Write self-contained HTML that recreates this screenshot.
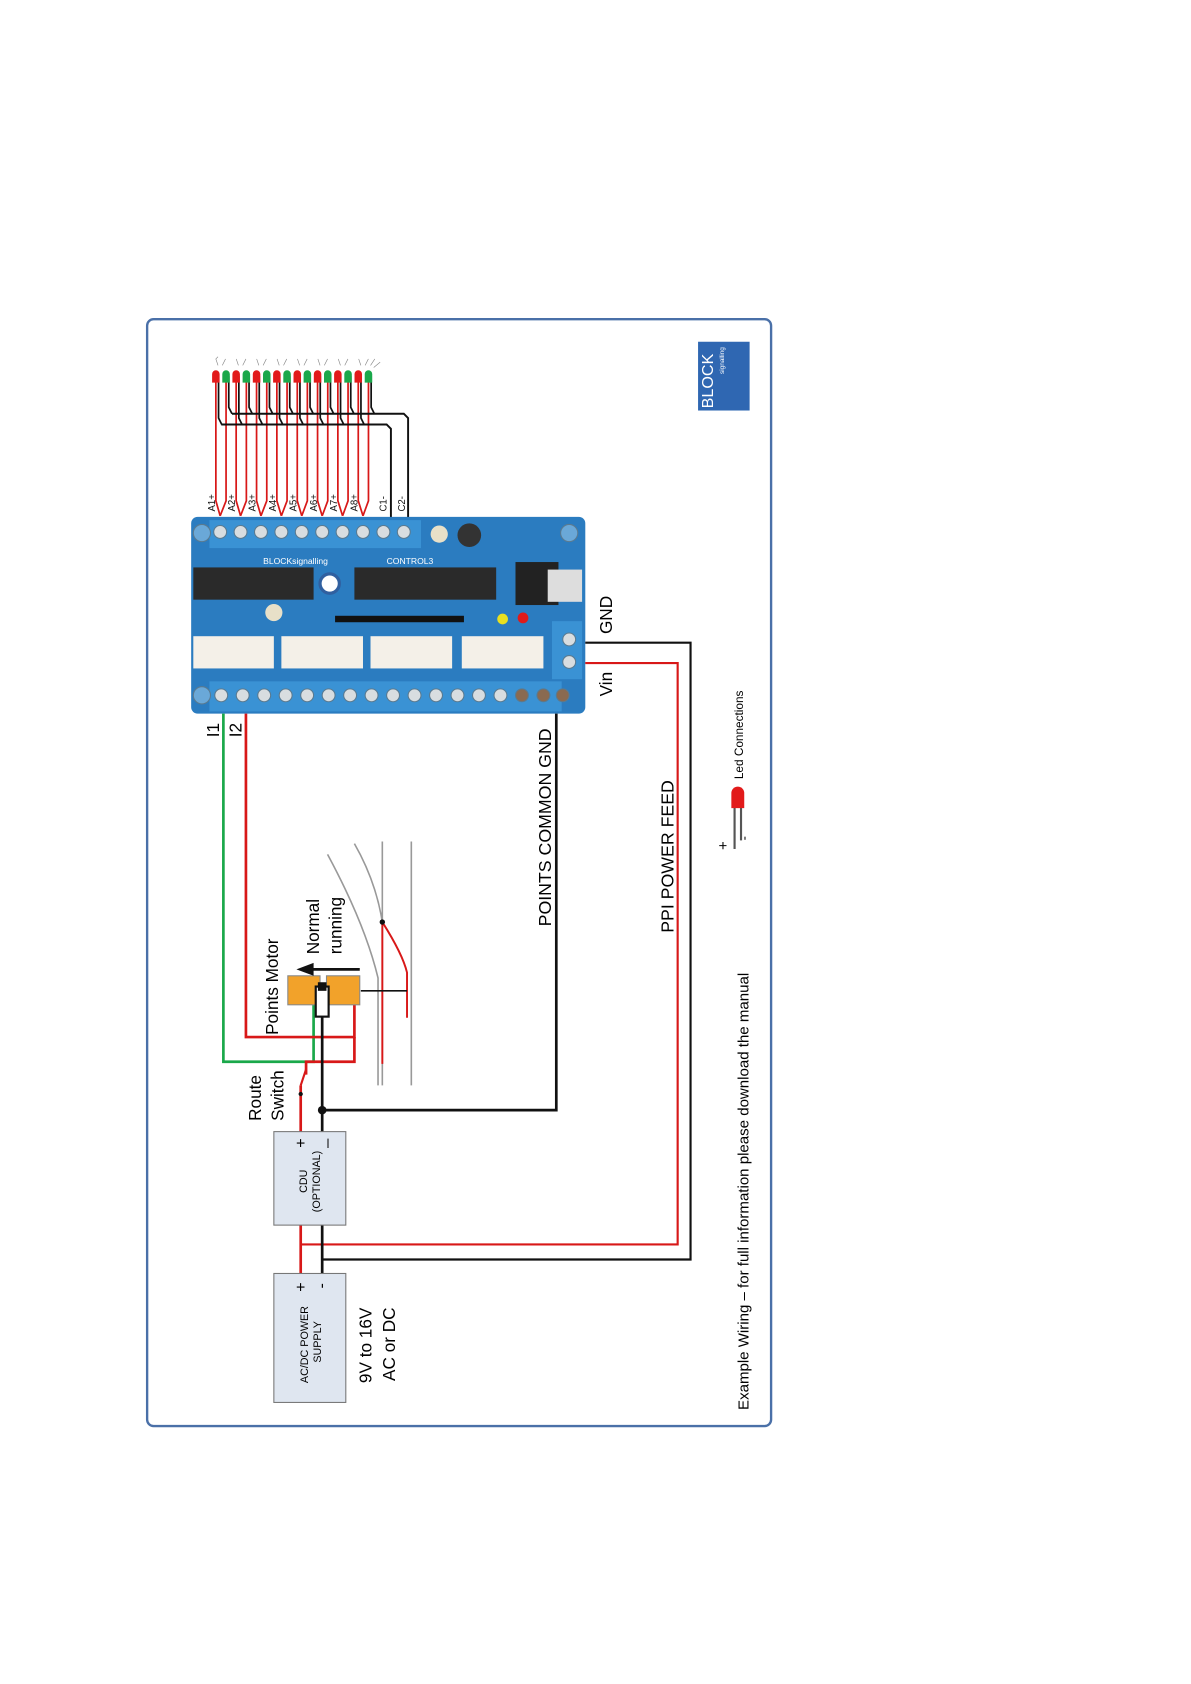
<!DOCTYPE html>
<html><head><meta charset="utf-8"><style>
html,body{margin:0;padding:0;background:#fff;}
svg{display:block;}
text{font-family:"Liberation Sans",sans-serif;}
</style></head><body>
<svg width="1191" height="1684" viewBox="0 0 1109 1567" preserveAspectRatio="none" xmlns="http://www.w3.org/2000/svg">
<rect x="137" y="297" width="581" height="1030" rx="6" fill="#fff" stroke="#4a70a8" stroke-width="2.2"/>
<rect x="650" y="318" width="48" height="64" fill="#2f67b2"/>
<text transform="translate(664,380) rotate(-90)" font-size="15" fill="#fff">BLOCK</text>
<text transform="translate(674,348) rotate(-90)" font-size="6" fill="#fff">signalling</text>

<!-- LED red wires -->
<g fill="none" stroke="#d81818" stroke-width="1.6">
<polyline points="201,350 201,466 205,480"/><polyline points="210.5,350 210.5,466 205,480"/>
<polyline points="219.9,350 219.9,466 224,480"/><polyline points="229.4,350 229.4,466 224,480"/>
<polyline points="238.9,350 238.9,466 243,480"/><polyline points="248.4,350 248.4,466 243,480"/>
<polyline points="257.8,350 257.8,466 262,480"/><polyline points="267.3,350 267.3,466 262,480"/>
<polyline points="276.8,350 276.8,466 281,480"/><polyline points="286.2,350 286.2,466 281,480"/>
<polyline points="295.7,350 295.7,466 300,480"/><polyline points="305.2,350 305.2,466 300,480"/>
<polyline points="314.6,350 314.6,466 319,480"/><polyline points="324.1,350 324.1,466 319,480"/>
<polyline points="333.6,350 333.6,466 338,480"/><polyline points="343.1,350 343.1,466 338,480"/>
</g>
<!-- LED black legs -->
<g fill="none" stroke="#111" stroke-width="1.6">
<polyline points="203.5,350 203.5,389 206.5,395"/><polyline points="213,350 213,379 216,385"/>
<polyline points="222.4,350 222.4,389 225.4,395"/><polyline points="231.9,350 231.9,379 234.9,385"/>
<polyline points="241.4,350 241.4,389 244.4,395"/><polyline points="250.9,350 250.9,379 253.9,385"/>
<polyline points="260.3,350 260.3,389 263.3,395"/><polyline points="269.8,350 269.8,379 272.8,385"/>
<polyline points="279.3,350 279.3,389 282.3,395"/><polyline points="288.7,350 288.7,379 291.7,385"/>
<polyline points="298.2,350 298.2,389 301.2,395"/><polyline points="307.7,350 307.7,379 310.7,385"/>
<polyline points="317.1,350 317.1,389 320.1,395"/><polyline points="326.6,350 326.6,379 329.6,385"/>
<polyline points="336.1,350 336.1,389 339.1,395"/><polyline points="345.6,350 345.6,379 348.6,385"/>
<polyline points="206,395 360,395 364,399 364,490" stroke-width="1.8"/>
<polyline points="216,385 376,385 380,389 380,490" stroke-width="1.8"/>
</g>
<!-- LED bodies -->
<g>
<path d="M197.5,356 v-8 a3.5,3.5 0 0 1 7,0 v8 z" fill="#e21a1a"/>
<path d="M207,356 v-8 a3.5,3.5 0 0 1 7,0 v8 z" fill="#1aa84a"/>
<path d="M216.4,356 v-8 a3.5,3.5 0 0 1 7,0 v8 z" fill="#e21a1a"/>
<path d="M225.9,356 v-8 a3.5,3.5 0 0 1 7,0 v8 z" fill="#1aa84a"/>
<path d="M235.4,356 v-8 a3.5,3.5 0 0 1 7,0 v8 z" fill="#e21a1a"/>
<path d="M244.9,356 v-8 a3.5,3.5 0 0 1 7,0 v8 z" fill="#1aa84a"/>
<path d="M254.3,356 v-8 a3.5,3.5 0 0 1 7,0 v8 z" fill="#e21a1a"/>
<path d="M263.8,356 v-8 a3.5,3.5 0 0 1 7,0 v8 z" fill="#1aa84a"/>
<path d="M273.3,356 v-8 a3.5,3.5 0 0 1 7,0 v8 z" fill="#e21a1a"/>
<path d="M282.7,356 v-8 a3.5,3.5 0 0 1 7,0 v8 z" fill="#1aa84a"/>
<path d="M292.2,356 v-8 a3.5,3.5 0 0 1 7,0 v8 z" fill="#e21a1a"/>
<path d="M301.7,356 v-8 a3.5,3.5 0 0 1 7,0 v8 z" fill="#1aa84a"/>
<path d="M311.1,356 v-8 a3.5,3.5 0 0 1 7,0 v8 z" fill="#e21a1a"/>
<path d="M320.6,356 v-8 a3.5,3.5 0 0 1 7,0 v8 z" fill="#1aa84a"/>
<path d="M330.1,356 v-8 a3.5,3.5 0 0 1 7,0 v8 z" fill="#e21a1a"/>
<path d="M339.6,356 v-8 a3.5,3.5 0 0 1 7,0 v8 z" fill="#1aa84a"/>
</g>
<g stroke="#888" stroke-width="0.6" fill="none">
<path d="M203,340 l-2,-6 l2,-2 M207,340 l3,-6 M222,340 l-2,-6 M226,340 l3,-6 M241,340 l-2,-6 M245,340 l3,-6 M260,340 l-2,-6 M264,340 l3,-6 M279,340 l-2,-6 M283,340 l3,-6 M298,340 l-2,-6 M302,340 l3,-6 M317,340 l-2,-6 M321,340 l3,-6 M336,340 l-2,-6 M340,340 l3,-6 M345,340 l4,-6 M348,342 l6,-5"/>
</g>
<g font-size="9" fill="#111">
<text transform="translate(200,476) rotate(-90)">A1+</text>
<text transform="translate(219,476) rotate(-90)">A2+</text>
<text transform="translate(238,476) rotate(-90)">A3+</text>
<text transform="translate(257,476) rotate(-90)">A4+</text>
<text transform="translate(276,476) rotate(-90)">A5+</text>
<text transform="translate(295,476) rotate(-90)">A6+</text>
<text transform="translate(314,476) rotate(-90)">A7+</text>
<text transform="translate(333,476) rotate(-90)">A8+</text>
<text transform="translate(360,476) rotate(-90)">C1-</text>
<text transform="translate(377,476) rotate(-90)">C2-</text>
</g>

<!-- board -->
<rect x="178" y="481" width="367" height="183" rx="6" fill="#2b7cc0"/>
<rect x="195" y="484" width="197" height="26" fill="#3a92d4"/>
<rect x="195" y="634" width="328" height="28" fill="#3a92d4"/>
<rect x="514" y="578" width="28" height="54" fill="#3a92d4"/>
<g fill="#d8dde0" stroke="#5a7a90" stroke-width="1">
<circle cx="205" cy="495" r="6"/><circle cx="224" cy="495" r="6"/><circle cx="243" cy="495" r="6"/><circle cx="262" cy="495" r="6"/><circle cx="281" cy="495" r="6"/><circle cx="300" cy="495" r="6"/><circle cx="319" cy="495" r="6"/><circle cx="338" cy="495" r="6"/><circle cx="357" cy="495" r="6"/><circle cx="376" cy="495" r="6"/>
<circle cx="206" cy="647" r="6"/><circle cx="226" cy="647" r="6"/><circle cx="246" cy="647" r="6"/><circle cx="266" cy="647" r="6"/><circle cx="286" cy="647" r="6"/><circle cx="306" cy="647" r="6"/><circle cx="326" cy="647" r="6"/><circle cx="346" cy="647" r="6"/><circle cx="366" cy="647" r="6"/><circle cx="386" cy="647" r="6"/><circle cx="406" cy="647" r="6"/><circle cx="426" cy="647" r="6"/><circle cx="446" cy="647" r="6"/><circle cx="466" cy="647" r="6"/>
<circle cx="486" cy="647" r="6" fill="#8a6a50"/><circle cx="506" cy="647" r="6" fill="#8a6a50"/><circle cx="524" cy="647" r="6" fill="#8a6a50"/>
<circle cx="530" cy="595" r="6"/><circle cx="530" cy="616" r="6"/>
<circle cx="188" cy="496" r="8" fill="#6aa8d8"/><circle cx="530" cy="496" r="8" fill="#6aa8d8"/><circle cx="188" cy="647" r="8" fill="#6aa8d8"/>
</g>
<rect x="180" y="528" width="112" height="30" fill="#2a2a2a"/>
<rect x="330" y="528" width="132" height="30" fill="#2a2a2a"/>
<rect x="480" y="523" width="40" height="40" fill="#222"/>
<rect x="510" y="530" width="32" height="30" fill="#ddd"/>
<circle cx="307" cy="543" r="9" fill="#fff" stroke="#3060a0" stroke-width="3"/>
<circle cx="437" cy="498" r="11" fill="#333"/><circle cx="409" cy="497" r="8" fill="#e8e0c8"/>
<circle cx="255" cy="570" r="8" fill="#e8e0c8"/>
<rect x="312" y="573" width="120" height="6" fill="#111"/>
<circle cx="468" cy="576" r="5" fill="#e8e020"/><circle cx="487" cy="575" r="5" fill="#e01a1a"/>
<g fill="#f4f0e8"><rect x="180" y="592" width="75" height="30"/><rect x="262" y="592" width="76" height="30"/><rect x="345" y="592" width="76" height="30"/><rect x="430" y="592" width="76" height="30"/></g>
<text x="245" y="525" font-size="8" fill="#fff">BLOCKsignalling</text>
<text x="360" y="525" font-size="8" fill="#fff">CONTROL3</text>

<text transform="translate(570,590) rotate(-90)" font-size="16">GND</text>
<text transform="translate(570,648) rotate(-90)" font-size="16">Vin</text>
<text transform="translate(204,686) rotate(-90)" font-size="16">I1</text>
<text transform="translate(225,686) rotate(-90)" font-size="16">I2</text>

<!-- wires -->
<polyline points="545,598 643,598 643,1172 300,1172" fill="none" stroke="#111" stroke-width="2"/>
<polyline points="545,617 631,617 631,1158 280,1158" fill="none" stroke="#d81818" stroke-width="2"/>
<polyline points="518,664 518,1033 300,1033" fill="none" stroke="#111" stroke-width="2.5"/>
<polyline points="208,664 208,988 292,988 292,920" fill="none" stroke="#1aa84a" stroke-width="2.5"/>
<polyline points="229,664 229,965 330,965 330,920" fill="none" stroke="#d81818" stroke-width="2.5"/>
<polyline points="330,965 330,988 285,988 285,1000" fill="none" stroke="#d81818" stroke-width="2.5"/>
<polyline points="300,945 300,1185" fill="none" stroke="#111" stroke-width="2.5"/>
<polyline points="280,1010 280,1053" fill="none" stroke="#d81818" stroke-width="2.5"/>
<polyline points="280,1140 280,1185" fill="none" stroke="#d81818" stroke-width="2.5"/>
<line x1="280" y1="1010" x2="285" y2="995" stroke="#d81818" stroke-width="2"/>
<circle cx="280" cy="1018" r="2" fill="#111"/>
<circle cx="300" cy="1033" r="4" fill="#111"/>

<!-- track -->
<path d="M305,795 Q340,860 352,910 L352,1010" fill="none" stroke="#999" stroke-width="1.5"/>
<path d="M330,785 Q350,820 356,858" fill="none" stroke="#999" stroke-width="1.5"/>
<line x1="356" y1="783" x2="356" y2="1010" stroke="#999" stroke-width="1.5"/>
<line x1="383" y1="783" x2="383" y2="1010" stroke="#999" stroke-width="1.5"/>
<path d="M356,858 Q375,888 379,905 L379,947" fill="none" stroke="#d81818" stroke-width="1.8"/>
<line x1="356" y1="858" x2="356" y2="990" stroke="#d81818" stroke-width="1.8"/>
<circle cx="356" cy="858" r="2.5" fill="#111"/>
<line x1="336" y1="922" x2="379" y2="922" stroke="#111" stroke-width="1.5"/>
<rect x="268" y="908" width="30" height="27" fill="#f2a22a" stroke="#888"/>
<rect x="304" y="908" width="31" height="27" fill="#f2a22a" stroke="#888"/>
<rect x="294" y="918" width="12" height="28" fill="#fff" stroke="#111" stroke-width="2"/>
<rect x="296" y="914" width="8" height="8" fill="#111"/>
<line x1="290" y1="902" x2="335" y2="902" stroke="#111" stroke-width="2.5"/>
<polygon points="276,902 292,896 292,908" fill="#111"/>
<text transform="translate(259,963) rotate(-90)" font-size="16">Points Motor</text>
<text transform="translate(297,888) rotate(-90)" font-size="16">Normal</text>
<text transform="translate(318,888) rotate(-90)" font-size="16">running</text>
<text transform="translate(243,1043) rotate(-90)" font-size="16">Route</text>
<text transform="translate(264,1043) rotate(-90)" font-size="16">Switch</text>
<text transform="translate(513,862) rotate(-90)" font-size="16.5">POINTS COMMON GND</text>
<text transform="translate(627,868) rotate(-90)" font-size="16.5">PPI POWER FEED</text>

<rect x="255" y="1053" width="67" height="87" fill="#dfe6f0" stroke="#777"/>
<text transform="translate(286,1110) rotate(-90)" font-size="10">CDU</text>
<text transform="translate(298,1128) rotate(-90)" font-size="10">(OPTIONAL)</text>
<text transform="translate(285,1068) rotate(-90)" font-size="15">+</text>
<text transform="translate(303,1068) rotate(-90)" font-size="15">_</text>
<rect x="255" y="1185" width="67" height="120" fill="#dfe6f0" stroke="#777"/>
<text transform="translate(287,1287) rotate(-90)" font-size="10">AC/DC POWER</text>
<text transform="translate(299,1268) rotate(-90)" font-size="10">SUPPLY</text>
<text transform="translate(285,1202) rotate(-90)" font-size="15">+</text>
<text transform="translate(304,1199) rotate(-90)" font-size="15">-</text>
<text transform="translate(346,1287) rotate(-90)" font-size="16">9V to 16V</text>
<text transform="translate(368,1285) rotate(-90)" font-size="16">AC or DC</text>
<text transform="translate(697,1312) rotate(-90)" font-size="14">Example Wiring – for full information please download the manual</text>

<line x1="684" y1="748" x2="684" y2="790" stroke="#555" stroke-width="2"/>
<line x1="690" y1="748" x2="690" y2="782" stroke="#555" stroke-width="2"/>
<path d="M681,752 v-14 a6,6 0 0 1 12,0 v14 z" fill="#e21a1a"/>
<text transform="translate(678,791) rotate(-90)" font-size="14">+</text>
<text transform="translate(697,782) rotate(-90)" font-size="12">-</text>
<text transform="translate(692,725) rotate(-90)" font-size="11">Led Connections</text>
</svg>
</body></html>
